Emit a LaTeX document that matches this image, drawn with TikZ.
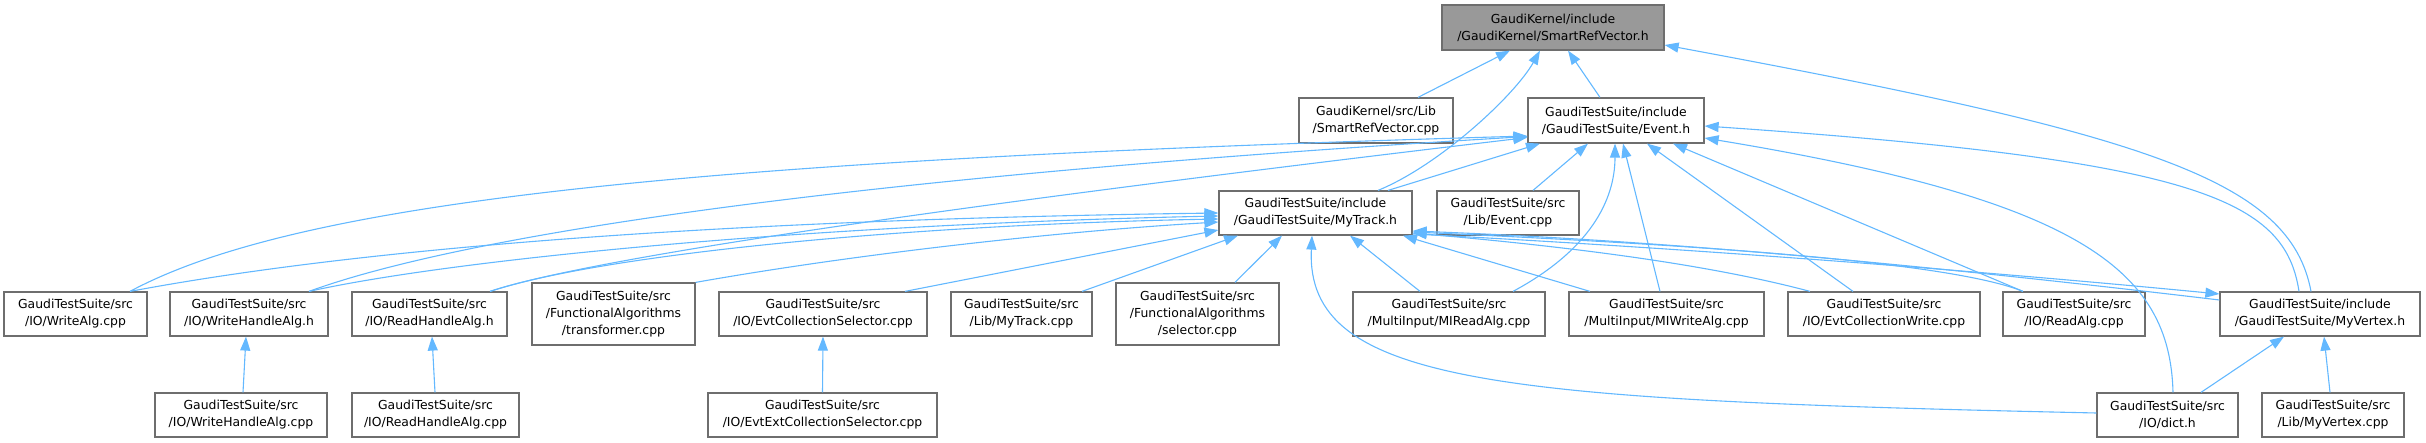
\documentclass[tikz,border=0pt]{standalone}
\usepackage{fontspec}
\setmainfont{DejaVu Sans}
\usetikzlibrary{arrows.meta}
\definecolor{edgeblue}{HTML}{63B8FF}
\definecolor{boxline}{HTML}{6E6E6E}
\definecolor{rootfill}{HTML}{999999}
\begin{document}
\begin{tikzpicture}[x=1pt,y=-1pt,
  box/.style={draw=boxline,line width=1.2pt,fill=white,inner sep=0pt,align=center,
    font=\fontsize{12.4}{17}\selectfont,minimum height=44pt},
  tall/.style={minimum height=62pt},
  rootbox/.style={box,fill=rootfill,minimum height=45pt},
  dep/.style={draw=edgeblue,line width=1.1pt,-{Triangle[length=14pt,width=10pt]}}]
\useasboundingbox (0,0) rectangle (2426,443);
% row 1
\node[rootbox,minimum width=222pt] (root) at (1553,27.5) {GaudiKernel/include\\/GaudiKernel/SmartRefVector.h};
% row 2
\node[box,minimum width=154pt,minimum height=45pt] (srvcpp) at (1376,120.5) {GaudiKernel/src/Lib\\/SmartRefVector.cpp};
\node[box,minimum width=176pt,minimum height=45pt] (event) at (1616,120.5) {GaudiTestSuite/include\\/GaudiTestSuite/Event.h};
% row 3
\node[box,minimum width=193pt] (mytrack) at (1315.5,213) {GaudiTestSuite/include\\/GaudiTestSuite/MyTrack.h};
\node[box,minimum width=142pt] (eventcpp) at (1508,213) {GaudiTestSuite/src\\/Lib/Event.cpp};
% row 4
\node[box,minimum width=143pt] (writealg) at (75.5,314) {GaudiTestSuite/src\\/IO/WriteAlg.cpp};
\node[box,minimum width=158pt] (whalgh) at (249,314) {GaudiTestSuite/src\\/IO/WriteHandleAlg.h};
\node[box,minimum width=155pt] (rhalgh) at (429.5,314) {GaudiTestSuite/src\\/IO/ReadHandleAlg.h};
\node[box,tall,minimum width=163pt] (transformer) at (613.5,314) {GaudiTestSuite/src\\/FunctionalAlgorithms\\/transformer.cpp};
\node[box,minimum width=208pt] (evtcolsel) at (823,314) {GaudiTestSuite/src\\/IO/EvtCollectionSelector.cpp};
\node[box,minimum width=141pt] (libmytrack) at (1021.5,314) {GaudiTestSuite/src\\/Lib/MyTrack.cpp};
\node[box,tall,minimum width=163pt] (selector) at (1197.5,314) {GaudiTestSuite/src\\/FunctionalAlgorithms\\/selector.cpp};
\node[box,minimum width=192pt] (mireadalg) at (1449,314) {GaudiTestSuite/src\\/MultiInput/MIReadAlg.cpp};
\node[box,minimum width=195pt] (miwritealg) at (1666.5,314) {GaudiTestSuite/src\\/MultiInput/MIWriteAlg.cpp};
\node[box,minimum width=192pt] (evtcolwrite) at (1884,314) {GaudiTestSuite/src\\/IO/EvtCollectionWrite.cpp};
\node[box,minimum width=142pt] (readalg) at (2074,314) {GaudiTestSuite/src\\/IO/ReadAlg.cpp};
\node[box,minimum width=200pt] (myvertex) at (2320,314) {GaudiTestSuite/include\\/GaudiTestSuite/MyVertex.h};
% row 5
\node[box,minimum width=172pt] (whalgcpp) at (241,415) {GaudiTestSuite/src\\/IO/WriteHandleAlg.cpp};
\node[box,minimum width=167pt] (rhalgcpp) at (435.5,415) {GaudiTestSuite/src\\/IO/ReadHandleAlg.cpp};
\node[box,minimum width=229pt] (evtext) at (822.5,415) {GaudiTestSuite/src\\/IO/EvtExtCollectionSelector.cpp};
\node[box,minimum width=141pt] (dict) at (2167.5,415) {GaudiTestSuite/src\\/IO/dict.h};
\node[box,minimum width=142pt] (libmyvertex) at (2333,415) {GaudiTestSuite/src\\/Lib/MyVertex.cpp};

% edges into root
\draw[dep] ([xshift=42pt]srvcpp.north) -- ([xshift=-43pt]root.south);
\draw[dep] ([xshift=62.5pt]mytrack.north) .. controls (1440,165) and (1515,95) .. ([xshift=-13pt]root.south);
\draw[dep] ([xshift=-16pt]event.north) -- ([xshift=15pt]root.south);
\draw[dep] ([xshift=-9pt]myvertex.north) .. controls (2290,180) and (2150,135) .. ([yshift=-17.5pt]root.east);
% edges into event
\draw[dep] ([xshift=72.5pt]mytrack.north) -- ([xshift=-76pt]event.south);
\draw[dep] ([xshift=25pt]eventcpp.north) -- ([xshift=-28pt]event.south);
\draw[dep] ([xshift=64pt]mireadalg.north) .. controls (1590,250) and (1615,200) .. ([xshift=-1pt]event.south);
\draw[dep] ([xshift=-6.5pt]miwritealg.north) -- ([xshift=7pt]event.south);
\draw[dep] ([xshift=-31pt]evtcolwrite.north) -- ([xshift=31pt]event.south);
\draw[dep] ([xshift=-51pt]readalg.north) -- ([xshift=57pt]event.south);
\draw[dep] ([xshift=-21pt]myvertex.north) .. controls (2285,200) and (2200,160) .. ([yshift=-5.5pt]event.east);
\draw[dep] ([xshift=5.5pt]dict.north) .. controls (2170,270) and (2080,200) .. ([yshift=-17.5pt]event.east);
\draw[dep] ([xshift=54.5pt]writealg.north) .. controls (300,200) and (700,160) .. ([yshift=-15.5pt]event.west);
\draw[dep] ([xshift=60pt]whalgh.north) .. controls (450,240) and (800,180) .. ([yshift=-16pt]event.west);
\draw[dep] ([xshift=60.5pt]rhalgh.north) .. controls (600,255) and (1000,200) .. ([yshift=-17pt]event.west);
% edges into mytrack
\draw[dep] ([xshift=54.5pt]writealg.north) .. controls (350,250) and (700,220) .. (mytrack.west);
\draw[dep] ([xshift=60pt]whalgh.north) .. controls (450,260) and (800,225) .. ([yshift=-3pt]mytrack.west);
\draw[dep] ([xshift=60.5pt]rhalgh.north) .. controls (600,255) and (900,225) .. ([yshift=-6pt]mytrack.west);
\draw[dep] (transformer.north east) .. controls (850,255) and (1050,232) .. ([yshift=-9pt]mytrack.west);
\draw[dep] ([xshift=82pt]evtcolsel.north) -- ([yshift=-17pt]mytrack.west);
\draw[dep] ([xshift=60.5pt]libmytrack.north) -- ([xshift=-77.5pt]mytrack.south);
\draw[dep] ([xshift=37.5pt]selector.north) -- ([xshift=-33.5pt]mytrack.south);
\draw[dep] ([xshift=-29pt]mireadalg.north) -- ([xshift=34.5pt]mytrack.south);
\draw[dep] ([xshift=-76.5pt]miwritealg.north) -- ([xshift=87.5pt]mytrack.south);
\draw[dep] ([yshift=2pt]dict.west) .. controls (1500,400) and (1305,385) .. ([xshift=-3.5pt]mytrack.south);
\draw[dep] ([xshift=-74pt]evtcolwrite.north) .. controls (1700,262) and (1550,245) .. ([yshift=-20pt]mytrack.east);
\draw[dep] ([xshift=-51pt]readalg.north) .. controls (1950,262) and (1700,245) .. ([yshift=-19pt]mytrack.east);
\draw[dep] ([yshift=14pt]myvertex.west) .. controls (1900,262) and (1650,240) .. ([yshift=-18pt]mytrack.east);
% mytrack into myvertex
\draw[dep] ([yshift=-21pt]mytrack.east) .. controls (1650,246) and (1950,268) .. ([yshift=20pt]myvertex.west);
% lower links
\draw[dep] ([xshift=2pt]whalgcpp.north) -- ([xshift=-3pt]whalgh.south);
\draw[dep] ([xshift=-0.5pt]rhalgcpp.north) -- ([xshift=2.5pt]rhalgh.south);
\draw[dep] (evtext.north) -- (evtcolsel.south);
\draw[dep] ([xshift=33.5pt]dict.north) -- ([xshift=-36pt]myvertex.south);
\draw[dep] ([xshift=-3pt]libmyvertex.north) -- ([xshift=4pt]myvertex.south);
\end{tikzpicture}
\end{document}
